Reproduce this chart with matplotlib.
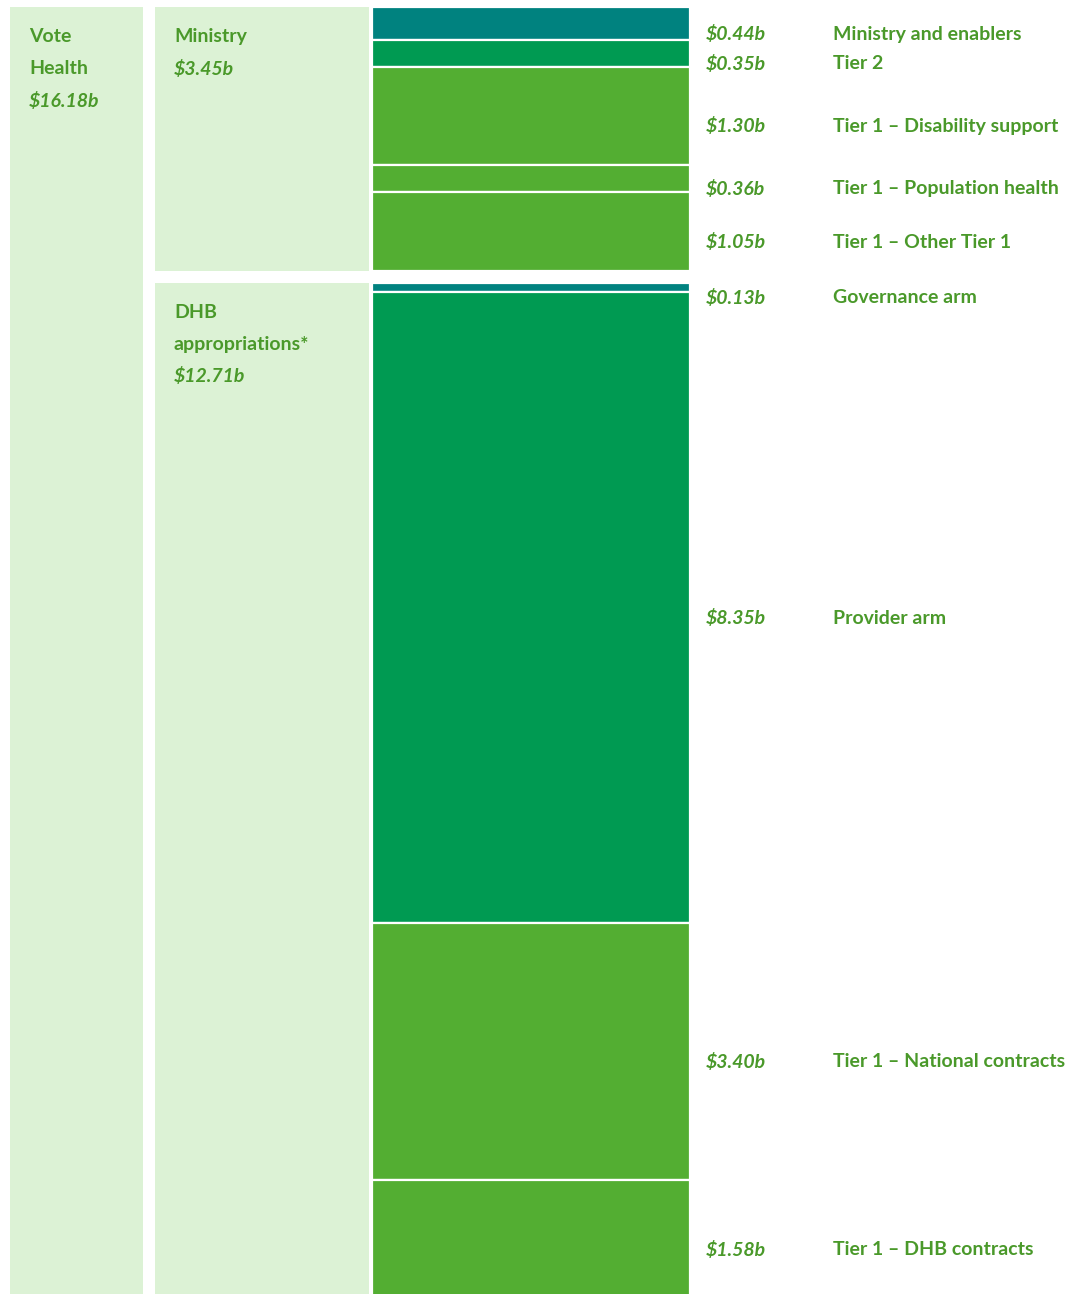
import matplotlib
matplotlib.use('Agg')
import matplotlib.pyplot as plt
import numpy as np

# Vote Health breakdown, $ billions
vote_total = '$16.18b'
ministry_total = '$3.45b'
dhb_total = '$12.71b'

ministry_labels = ['Ministry and enablers', 'Tier 2', 'Tier 1 \u2013 Disability support',
                   'Tier 1 \u2013 Population health', 'Tier 1 \u2013 Other Tier 1']
ministry_values = [0.44, 0.35, 1.30, 0.36, 1.05]
ministry_colors = ['#00827f', '#009a52', '#53ae32', '#53ae32', '#53ae32']

dhb_labels = ['Governance arm', 'Provider arm', 'Tier 1 \u2013 National contracts',
              'Tier 1 \u2013 DHB contracts']
dhb_values = [0.13, 8.35, 3.40, 1.58]
dhb_colors = ['#00827f', '#009a52', '#53ae32', '#53ae32']

PANEL = '#dcf2d5'
TEXT = '#4a992a'
FONT = ['Lato', 'DejaVu Sans']
FS = 14

W, H = 1069, 1294
PX = 75.5          # pixels per billion
TOP = 7            # top margin, px
GAP = 0.15         # space between Ministry and DHB blocks

fig = plt.figure(figsize=(W / 100, H / 100), dpi=100)
ax = fig.add_axes([0, 0, 1, 1])
ax.set_xlim(0, W)
ax.set_ylim((H - TOP) / PX, -TOP / PX)
ax.axis('off')

ministry_start = 0.0
ministry_end = ministry_start + sum(ministry_values)
dhb_start = ministry_end + GAP
dhb_end = dhb_start + sum(dhb_values)

# background panels
ax.bar(10, dhb_end, width=133, bottom=0, align='edge', color=PANEL, linewidth=0)
ax.bar(155, ministry_end - ministry_start, width=214, bottom=ministry_start,
       align='edge', color=PANEL, linewidth=0)
ax.bar(155, dhb_end - dhb_start, width=214, bottom=dhb_start,
       align='edge', color=PANEL, linewidth=0)

def stack(values, labels, colors, start):
    bottoms = start + np.concatenate([[0], np.cumsum(values)[:-1]])
    ax.bar(np.full(len(values), 372), values, width=318, bottom=bottoms,
           align='edge', color=colors, edgecolor='white', linewidth=1.6)
    for v, lab, b in zip(values, labels, bottoms):
        mid = b + v / 2
        ax.annotate(f'${v:.2f}b', (706, mid), xytext=(0, -7.5),
                    textcoords='offset points', ha='left', va='center',
                    fontsize=FS, fontweight='bold', fontstyle='italic',
                    color=TEXT, family=FONT)
        ax.annotate(lab, (833, mid), xytext=(0, -7.5),
                    textcoords='offset points', ha='left', va='center',
                    fontsize=FS, fontweight='bold', color=TEXT, family=FONT)

stack(ministry_values, ministry_labels, ministry_colors, ministry_start)
stack(dhb_values, dhb_labels, dhb_colors, dhb_start)

def panel_text(x, top, lines):
    for i, (txt, italic) in enumerate(lines):
        ax.annotate(txt, (x, top), xytext=(0, -21.5 - 23 * i),
                    textcoords='offset points', ha='left', va='center',
                    fontsize=FS, fontweight='bold',
                    fontstyle='italic' if italic else 'normal',
                    color=TEXT, family=FONT)

panel_text(29, 0, [('Vote', False), ('Health', False), (vote_total, True)])
panel_text(174, ministry_start, [('Ministry', False), (ministry_total, True)])
panel_text(174, dhb_start, [('DHB', False), ('appropriations*', False), (dhb_total, True)])

fig.savefig('out.png', dpi=100, facecolor='white')
